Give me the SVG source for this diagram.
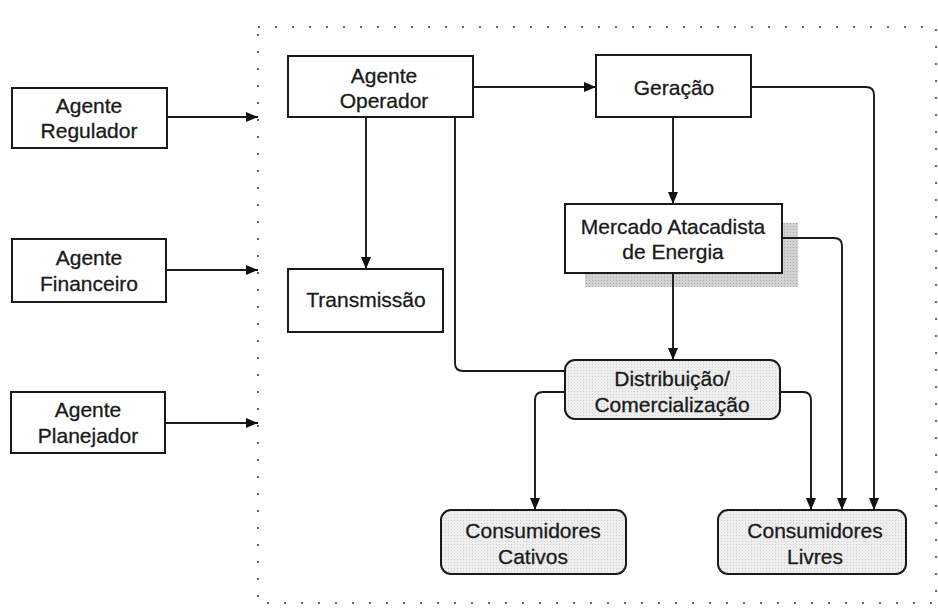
<svg xmlns="http://www.w3.org/2000/svg" width="938" height="612" viewBox="0 0 938 612">
<defs>
<marker id="ah" markerUnits="userSpaceOnUse" markerWidth="13" markerHeight="11" refX="12" refY="5" orient="auto">
<path d="M0,0 L12,5 L0,10 z" fill="#111"/>
</marker>
<pattern id="stip" width="3" height="3" patternUnits="userSpaceOnUse">
<rect width="3" height="3" fill="#eeeeee"/>
<rect x="1" y="1" width="1" height="1" fill="#d0d0d0"/>
</pattern>
<pattern id="shad" width="3" height="3" patternUnits="userSpaceOnUse">
<rect width="3" height="3" fill="#d2d2d2"/>
<rect x="1" y="1" width="1" height="1" fill="#ababab"/>
</pattern>
</defs>
<style>
.box{fill:#fff;stroke:#1a1a1a;stroke-width:2}
.rbox{fill:url(#stip);stroke:#1a1a1a;stroke-width:2}
.t{font-family:"Liberation Sans",Arial,sans-serif;font-size:21px;fill:#1a1a1a;stroke:#1a1a1a;stroke-width:0.3;text-anchor:middle}
.c{fill:none;stroke:#1a1a1a;stroke-width:1.9}
.frame{fill:none;stroke:#666;stroke-width:2;stroke-dasharray:2 15}
</style>
<rect width="938" height="612" fill="#fff"/>
<rect class="frame" x="258" y="27" width="678" height="576"/>

<g id="agente-regulador"><rect class="box" x="12" y="88" width="155" height="60"/><text class="t" x="89" y="113">Agente</text><text class="t" x="89" y="138">Regulador</text></g>
<g id="agente-financeiro"><rect class="box" x="12" y="239" width="154" height="63"/><text class="t" x="89" y="265">Agente</text><text class="t" x="89" y="291">Financeiro</text></g>
<g id="agente-planejador"><rect class="box" x="11" y="392" width="154" height="61"/><text class="t" x="88" y="417">Agente</text><text class="t" x="88" y="443">Planejador</text></g>
<g id="agente-operador"><rect class="box" x="288" y="56" width="185" height="61"/><text class="t" x="384" y="83">Agente</text><text class="t" x="384" y="108">Operador</text></g>
<g id="transmissao"><rect class="box" x="288" y="269" width="155" height="63"/><text class="t" x="366" y="307">Transmissão</text></g>
<g id="geracao"><rect class="box" x="596" y="55" width="155" height="62"/><text class="t" x="674" y="95">Geração</text></g>
<g id="mercado"><rect x="585" y="223" width="213" height="64" fill="url(#shad)"/><rect class="box" x="565" y="204" width="217" height="69"/><text class="t" x="673" y="234">Mercado Atacadista</text><text class="t" x="673" y="259">de Energia</text></g>
<g id="distribuicao"><rect class="rbox" x="565" y="360" width="215" height="59" rx="10"/><text class="t" x="672" y="386">Distribuição/</text><text class="t" x="672" y="412">Comercialização</text></g>
<g id="cativos"><rect class="rbox" x="441" y="510" width="185" height="64" rx="10"/><text class="t" x="533" y="538">Consumidores</text><text class="t" x="533" y="564">Cativos</text></g>
<g id="livres"><rect class="rbox" x="718" y="510" width="188" height="64" rx="10"/><text class="t" x="815" y="538">Consumidores</text><text class="t" x="815" y="564">Livres</text></g>

<g id="connectors">
<path class="c" marker-end="url(#ah)" d="M167,117 H258"/>
<path class="c" marker-end="url(#ah)" d="M166,270 H258"/>
<path class="c" marker-end="url(#ah)" d="M165,423 H258"/>
<path class="c" marker-end="url(#ah)" d="M473,87 H596"/>
<path class="c" marker-end="url(#ah)" d="M366,117 V269"/>
<path class="c" d="M455,117 V363 Q455,371 463,371 H565"/>
<path class="c" marker-end="url(#ah)" d="M673,117 V204"/>
<path class="c" marker-end="url(#ah)" d="M673,273 V360"/>
<path class="c" marker-end="url(#ah)" d="M751,87 H866 Q874,87 874,95 V510"/>
<path class="c" marker-end="url(#ah)" d="M782,238 H834 Q842,238 842,246 V510"/>
<path class="c" marker-end="url(#ah)" d="M780,392 H803 Q811,392 811,400 V510"/>
<path class="c" marker-end="url(#ah)" d="M565,392 H543 Q535,392 535,400 V510"/>
</g>
</svg>
